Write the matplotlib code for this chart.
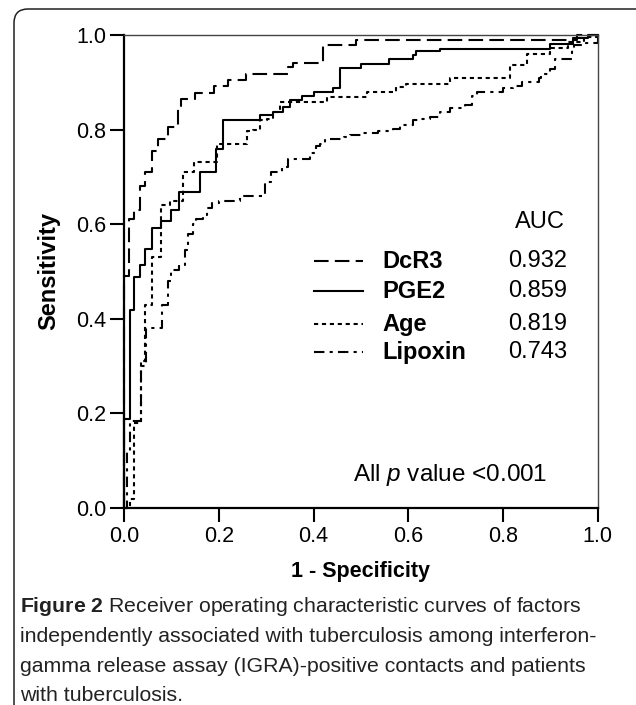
import matplotlib
matplotlib.use("Agg")
import matplotlib.pyplot as plt
from matplotlib.patches import FancyBboxPatch
from matplotlib.transforms import IdentityTransform

plt.rcParams["font.family"] = ["Liberation Sans", "DejaVu Sans"]
plt.rcParams["mathtext.fontset"] = "custom"
plt.rcParams["mathtext.rm"] = "Liberation Sans"
plt.rcParams["mathtext.it"] = "Liberation Sans:italic"
plt.rcParams["mathtext.bf"] = "Liberation Sans:bold"

# ROC step corners (1 - specificity, sensitivity)
dcr3_fpr = [0, 0, 0.011, 0.022, 0.033, 0.044, 0.058, 0.072, 0.093, 0.114, 0.12,
            0.149, 0.19, 0.22, 0.257, 0.346, 0.356, 0.42, 0.49, 0.955, 1.0]
dcr3_tpr = [0, 0.49, 0.61, 0.63, 0.68, 0.71, 0.755, 0.78, 0.805, 0.85, 0.865,
            0.877, 0.893, 0.905, 0.918, 0.933, 0.94, 0.978, 0.99, 1.0, 1.0]

pge2_fpr = [0, 0, 0.012, 0.021, 0.033, 0.044, 0.058, 0.079, 0.1, 0.115, 0.161,
            0.195, 0.209, 0.287, 0.314, 0.335, 0.35, 0.376, 0.40, 0.44, 0.455,
            0.50, 0.56, 0.61, 0.617, 0.667, 0.899, 0.947, 0.98, 1.0]
pge2_tpr = [0, 0.189, 0.418, 0.488, 0.513, 0.548, 0.591, 0.607, 0.63, 0.668, 0.71,
            0.76, 0.82, 0.83, 0.837, 0.848, 0.862, 0.872, 0.88, 0.888, 0.93,
            0.939, 0.95, 0.957, 0.967, 0.971, 0.98, 0.993, 1.0, 1.0]

age_fpr = [0, 0.012, 0.021, 0.035, 0.045, 0.058, 0.079, 0.097, 0.125, 0.148,
           0.196, 0.259, 0.273, 0.287, 0.301, 0.315, 0.329, 0.428, 0.512, 0.575,
           0.596, 0.688, 0.814, 0.85, 0.899, 0.937, 0.97, 1.0]
age_tpr = [0, 0.02, 0.18, 0.31, 0.43, 0.53, 0.64, 0.65, 0.71, 0.731,
           0.77, 0.798, 0.8, 0.82, 0.823, 0.837, 0.858, 0.869, 0.879, 0.89,
           0.897, 0.91, 0.936, 0.96, 0.973, 0.985, 0.995, 1.0]

lipoxin_fpr = [0, 0.006, 0.012, 0.035, 0.046, 0.08, 0.093, 0.1, 0.115, 0.129,
               0.135, 0.146, 0.152, 0.167, 0.176, 0.186, 0.2, 0.245, 0.297, 0.31,
               0.333, 0.347, 0.392, 0.405, 0.414, 0.424, 0.465, 0.477, 0.504, 0.535,
               0.567, 0.582, 0.61, 0.624, 0.646, 0.667, 0.688, 0.72, 0.734, 0.745,
               0.8, 0.82, 0.84, 0.875, 0.88, 0.9, 0.91, 0.945, 0.95, 0.975, 1.0]
lipoxin_tpr = [0, 0.12, 0.185, 0.3, 0.38, 0.43, 0.48, 0.503, 0.513, 0.545,
               0.58, 0.6, 0.612, 0.62, 0.635, 0.645, 0.65, 0.66, 0.69, 0.71,
               0.72, 0.738, 0.75, 0.765, 0.77, 0.78, 0.785, 0.788, 0.792, 0.798,
               0.802, 0.81, 0.82, 0.823, 0.826, 0.837, 0.845, 0.851, 0.872, 0.879,
               0.887, 0.893, 0.9, 0.91, 0.917, 0.928, 0.95, 0.971, 0.978, 0.982, 1.0]

names = ["DcR3", "PGE2", "Age", "Lipoxin"]
auc = ["0.932", "0.859", "0.819", "0.743"]
ticks = [0.0, 0.2, 0.4, 0.6, 0.8, 1.0]

caption = [
    r"$\bf{Figure\ 2}$ Receiver operating characteristic curves of factors",
    "independently associated with tuberculosis among interferon-",
    "gamma release assay (IGRA)-positive contacts and patients",
    "with tuberculosis.",
]

styles = [(0, (7, 3)), "-", (0, (2, 1.8)), (0, (5, 2.5, 1.5, 2.5))]
curves = [(dcr3_fpr, dcr3_tpr), (pge2_fpr, pge2_tpr),
          (age_fpr, age_tpr), (lipoxin_fpr, lipoxin_tpr)]

fig = plt.figure(figsize=(6.36, 7.05), dpi=100)
ax = fig.add_axes([0.195, 0.2794, 0.745, 0.671])

for (fx, ty), ls in zip(curves, styles):
    ax.plot(fx, ty, drawstyle="steps-post", color="black", lw=1.5, ls=ls,
            clip_on=False)

ax.set_xlim(0, 1)
ax.set_ylim(0, 1)
ax.set_xticks(ticks)
ax.set_yticks(ticks)
ax.set_xticklabels([f"{t:.1f}" for t in ticks])
ax.set_yticklabels([f"{t:.1f}" for t in ticks])
ax.tick_params(direction="out", length=10, width=1.5, labelsize=15.5, pad=3,
               color="black")
for side in ["left", "bottom"]:
    ax.spines[side].set_linewidth(1.6)
for side in ["top", "right"]:
    ax.spines[side].set_linewidth(1.0)
    ax.spines[side].set_color("#444444")

ax.set_xlabel("1 - Specificity", fontsize=15.5, fontweight="bold")
ax.xaxis.set_label_coords(0.5, -0.113)
ax.set_ylabel("Sensitivity", fontsize=17, fontweight="bold")
ax.yaxis.set_label_coords(-0.135, 0.5)

# legend block drawn by hand: key line, bold name, AUC value
rows = [0.522, 0.458, 0.389, 0.329]
ax.text(0.878, 0.605, "AUC", transform=ax.transAxes, fontsize=17,
        ha="center", va="center")
for y, name, a, ls in zip(rows, names, auc, styles):
    ax.plot([0.40, 0.505], [y, y], transform=ax.transAxes, color="black",
            lw=1.5, ls=ls)
    ax.text(0.546, y, name, transform=ax.transAxes, fontsize=17,
            fontweight="bold", va="center")
    ax.text(0.81, y, a, transform=ax.transAxes, fontsize=17, va="center")

ax.text(0.688, 0.07, r"All $p$ value <0.001", transform=ax.transAxes,
        fontsize=17.5, ha="center", va="center")

for i, line in enumerate(caption):
    fig.text(20 / 636, 1 - (607 + 29.5 * i) / 705, line, fontsize=15.3,
             ha="left", va="center", color="#222222")

frame = FancyBboxPatch((14, -40), 700, 736, boxstyle="round,pad=0,rounding_size=14",
                       transform=IdentityTransform(), fill=False,
                       edgecolor="#222222", lw=1.1)
fig.add_artist(frame)

fig.savefig("out.png", dpi=100)
